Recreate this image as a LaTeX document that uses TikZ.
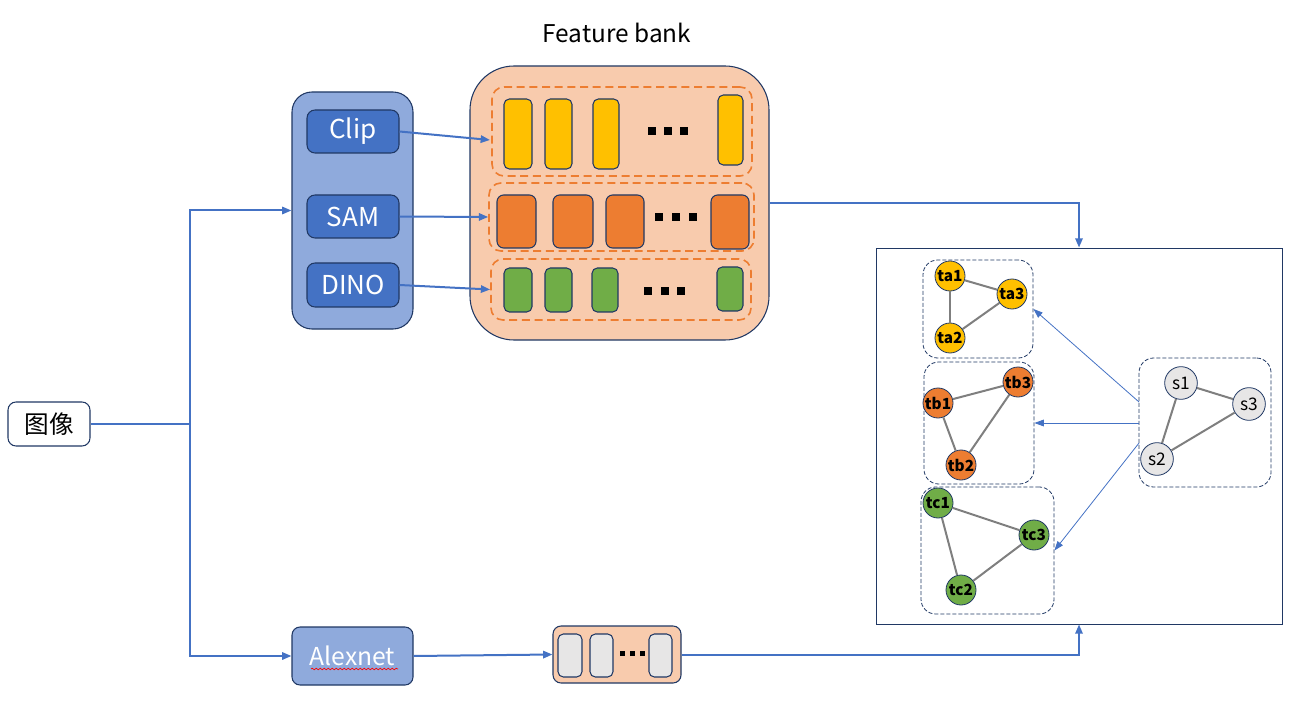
\documentclass[tikz,border=0pt]{standalone}
\usepackage{fontspec}
\setmainfont{Noto Sans CJK SC}
\usetikzlibrary{arrows.meta,decorations.pathmorphing}
\definecolor{lblue}{HTML}{8FAADC}
\definecolor{mblue}{HTML}{4472C4}
\definecolor{navy}{HTML}{203864}
\definecolor{peach}{HTML}{F8CBAD}
\definecolor{orng}{HTML}{ED7D31}
\definecolor{yel}{HTML}{FFC000}
\definecolor{grn}{HTML}{70AD47}
\definecolor{lgray}{HTML}{E7E6E6}
\definecolor{egray}{HTML}{7F7F7F}
% \bx[style]{name}{x1}{y1}{x2}{y2}{text}
\newcommand\bx[7][]{\node[inner sep=0pt, #1, minimum width={(#5-#3)*0.75pt}, minimum height={(#6-#4)*0.75pt}] (#2) at ({(#3+#5)/2},{(#4+#6)/2}) {#7};}
\tikzset{
  box/.style={draw=navy, line width=0.8pt, rounded corners=#1},
  box/.default=4pt,
  modbox/.style={box=6pt, fill=mblue, text=white, font=\fontsize{19.5}{21}\selectfont},
  row/.style={draw=orng, line width=1.2pt, dash pattern=on 6pt off 3.5pt, rounded corners=9pt},
  grp/.style={draw=navy, line width=0.6pt, dash pattern=on 3pt off 1.5pt, rounded corners=11pt},
  gnode/.style={circle, draw=navy, line width=0.6pt, inner sep=0pt, minimum size=22.5pt, font=\fontsize{11.5}{12}\bfseries\selectfont},
  snode/.style={circle, draw=navy, line width=0.6pt, fill=lgray, inner sep=0pt, minimum size=24.5pt, font=\fontsize{13}{14}\selectfont},
  edge/.style={draw=egray, line width=1.5pt},
  bl/.style={draw=mblue, line width=1.5pt},
  tip/.style={-{Triangle[length=7pt,width=5.5pt]}},
  thin/.style={draw=mblue, line width=0.6pt, -{Triangle[length=7pt,width=5pt]}}
}
\begin{document}
\begin{tikzpicture}[x=0.75pt,y=-0.75pt]
\useasboundingbox (0,0) rectangle (1312,723);

% title
\node[font=\fontsize{18.3}{20}\selectfont] (title) at (617,33) {Feature bank};

% left panel
\bx[box=15pt, fill=lblue]{panel}{292}{92}{413}{329}{}
\bx[modbox]{clip}{307}{110}{399}{153}{Clip}
\bx[modbox]{sam}{307}{195}{399}{238}{SAM}
\bx[modbox]{dino}{307}{263}{399}{307}{DINO}

% feature bank
\bx[box=33pt, fill=peach]{bank}{470}{66}{769}{340}{}
\bx[row]{row1}{492}{87}{752}{176}{}
\bx[row]{row2}{489}{183}{754}{251}{}
\bx[row]{row3}{491}{259}{751}{320}{}

% yellow bars
\bx[box, fill=yel]{y1}{504}{99}{532}{169}{}
\bx[box, fill=yel]{y2}{545}{99}{572}{169}{}
\bx[box, fill=yel]{y3}{593}{99}{619}{169}{}
\bx[box, fill=yel]{y4}{718}{95}{743}{165}{}
\foreach \x in {652,668,684} \fill (\x-4,127.5) rectangle (\x+4,135.5);

% orange boxes
\bx[box=5pt, fill=orng]{o1}{497}{195}{536}{248}{}
\bx[box=5pt, fill=orng]{o2}{553}{195}{593}{248}{}
\bx[box=5pt, fill=orng]{o3}{606}{195}{644}{248}{}
\bx[box=5pt, fill=orng]{o4}{711}{195}{749}{249}{}
\foreach \x in {659,676,693} \fill (\x-4,213.5) rectangle (\x+4,221.5);

% green boxes
\bx[box, fill=grn]{g1}{504}{268}{532}{312}{}
\bx[box, fill=grn]{g2}{545}{268}{572}{312}{}
\bx[box, fill=grn]{g3}{592}{268}{618}{312}{}
\bx[box, fill=grn]{g4}{717}{267}{743}{311}{}
\foreach \x in {648,665,681} \fill (\x-4,287.5) rectangle (\x+4,295.5);

% image node
\bx[box=6pt, font=\fontsize{18.5}{20}\selectfont]{img}{8}{402}{90}{446}{图像}
\coordinate (j) at (190,424);

% alexnet
\bx[box=6pt, fill=lblue, text=white, font=\fontsize{18.5}{20}\selectfont]{alex}{292}{627}{413}{685}{Alexnet}
\draw[red, line width=0.5pt, decorate, decoration={snake, amplitude=0.6pt, segment length=3pt}] (311,669) -- (398,669);

% small feature box
\bx[box=6pt, fill=peach]{fb}{553}{626}{681}{683}{}
\bx[box, fill=lgray]{e1}{558}{634}{582}{677}{}
\bx[box, fill=lgray]{e2}{590}{634}{613}{677}{}
\bx[box, fill=lgray]{e3}{649}{634}{672}{677}{}
\foreach \x in {622,632,642} \fill (\x-2.5,651) rectangle (\x+2.5,656);

% graph panel
\bx[draw=navy, line width=0.6pt]{graph}{876}{248}{1282}{624}{}

\bx[grp]{ga}{923}{260}{1033}{358}{}
\bx[grp]{gb}{924}{362}{1034}{484}{}
\bx[grp]{gc}{921}{487}{1054}{614}{}
\bx[grp]{gs}{1139}{358}{1271}{487}{}

\node[gnode, fill=yel] (ta1) at (950,276) {ta1};
\node[gnode, fill=yel] (ta3) at (1012,294) {ta3};
\node[gnode, fill=yel] (ta2) at (950,338) {ta2};
\node[gnode, fill=orng] (tb1) at (938,403) {tb1};
\node[gnode, fill=orng] (tb3) at (1018,382) {tb3};
\node[gnode, fill=orng] (tb2) at (961,465) {tb2};
\node[gnode, fill=grn] (tc1) at (938,503) {tc1};
\node[gnode, fill=grn] (tc3) at (1034,535) {tc3};
\node[gnode, fill=grn] (tc2) at (961,590) {tc2};
\node[snode] (s1) at (1181,383) {s1};
\node[snode] (s3) at (1249,404) {s3};
\node[snode] (s2) at (1157,459) {s2};

\foreach \a/\b in {ta1/ta3,ta1/ta2,ta2/ta3,tb1/tb3,tb1/tb2,tb2/tb3,tc1/tc3,tc1/tc2,tc2/tc3,s1/s3,s1/s2,s2/s3}
  \draw[edge] (\a) -- (\b);

\coordinate (sa) at (1139,402);
\coordinate (sb) at (1139,423);
\coordinate (sc) at (1139,443);
\draw[thin] (sa) -- (ga.east);
\draw[thin] (sb) -- (gb.east);
\draw[thin] (sc) -- (gc.east);

% connectors
\coordinate (r1in) at (490,140);
\draw[bl, tip] (clip.east) -- (r1in);
\draw[bl, tip] (sam.east) -- (row2.west);
\draw[bl, tip] (dino.east) -- (row3.west);
\draw[bl] (img.east) -- (j);
\draw[bl, tip] (j) |- (panel.west);
\draw[bl, tip] (j) |- (alex.west);
\draw[bl, tip] (alex.east) -- (fb.west);
\draw[bl, tip] (bank.east) -| (graph.north);
\draw[bl, tip] (fb.east) -| (graph.south);
\end{tikzpicture}
\end{document}
